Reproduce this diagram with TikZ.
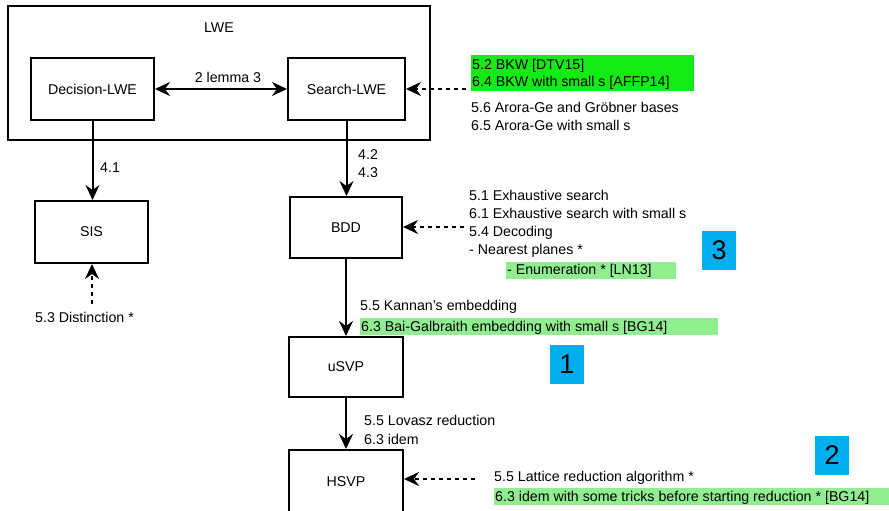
\documentclass[tikz,border=0pt]{standalone}
\usepackage{fontspec}
\setmainfont{Liberation Sans}[Ligatures=ResetAll]
\usetikzlibrary{arrows.meta}
\definecolor{bgreen}{RGB}{20,235,20}
\definecolor{lgreen}{RGB}{144,238,144}
\definecolor{cyanbox}{RGB}{0,174,239}
\begin{document}
\begin{tikzpicture}[x=1pt,y=-1pt,
  every node/.style={font=\fontsize{14.2}{17}\selectfont},
  box/.style={draw,line width=2pt,inner sep=0pt},
  txt/.style={anchor=base west,inner sep=0pt},
  ctxt/.style={anchor=base,inner sep=0pt},
  tip/.tip={Stealth[length=15pt,width=14pt,inset=5pt]},
  arr/.style={line width=2pt,-tip},
  darr/.style={arr,dash pattern=on 4pt off 4pt},
  numbox/.style={fill=cyanbox,inner sep=0pt,minimum width=34pt,minimum height=39pt,font=\fontsize{27}{30}\selectfont}]
\path[use as bounding box] (0,0) rectangle (889,511);
\clip (0,0) rectangle (889,511);
\fill[white] (0,0) rectangle (889,511);

% LWE container
\node[box,minimum width=422pt,minimum height=134pt] (lwe) at (219,73) {};
\node[ctxt] (lwelabel) at (219,33) {LWE};

% main boxes
\node[box,minimum width=123pt,minimum height=62pt] (dec) at (92.5,89) {Decision-LWE};
\node[box,minimum width=117pt,minimum height=62pt] (search) at (346.5,89) {Search-LWE};
\node[box,minimum width=113pt,minimum height=62pt] (sis) at (91.5,232) {SIS};
\node[box,minimum width=112pt,minimum height=61pt] (bdd) at (346,227.5) {BDD};
\node[box,minimum width=114pt,minimum height=60pt] (usvp) at (346,367) {uSVP};
\node[box,minimum width=114pt,minimum height=64pt] (hsvp) at (346,482) {HSVP};

% solid arrows
\draw[line width=2pt,tip-tip] (dec) -- (search);
\node[ctxt] (lemma) at (228,82) {2 lemma 3};
\draw[arr] (dec.south) -- (dec.south |- sis.north);
\node[txt] (l41) at (100,172) {4.1};
\draw[arr] (search.south) -- (search.south |- bdd.north);
\node[txt] (l42) at (358,159) {4.2};
\node[txt] (l43) at (358,177.5) {4.3};
\draw[arr] (bdd) -- (usvp);
\draw[arr] (usvp) -- (hsvp);

% dashed arrows
\coordinate (s1) at (466,89);
\draw[darr] (s1) -- (search.east);
\coordinate (s2) at (464,227);
\draw[darr] (s2) -- (s2 -| bdd.east);
\coordinate (s3) at (475,479);
\draw[darr] (s3) -- (s3 -| hsvp.east);
\coordinate (s4) at (92,304);
\draw[darr] (s4) -- (s4 |- sis.south);
\node[txt] (dist) at (35,322.5) {5.3 Distinction *};

% Search-LWE attacks
\fill[bgreen] (471,55) rectangle (694,91);
\node[txt] (a1) at (472,69.5) {5.2 BKW [DTV15]};
\node[txt] (a2) at (472,87) {6.4 BKW with small s [AFFP14]};
\node[txt] (a3) at (471,112.5) {5.6 Arora-Ge and Gröbner bases};
\node[txt] (a4) at (471,130) {6.5 Arora-Ge with small s};

% BDD attacks
\node[txt] (b1) at (469,200.5) {5.1 Exhaustive search};
\node[txt] (b2) at (469,218.5) {6.1 Exhaustive search with small s};
\node[txt] (b3) at (469,236) {5.4 Decoding};
\node[txt] (b4) at (469,254) {- Nearest planes *};
\fill[lgreen] (506,262) rectangle (676,279);
\node[txt] (b5) at (507,274.5) {- Enumeration * [LN13]};
\node[numbox] (n3) at (719,250.5) {3};

% BDD -> uSVP labels
\node[txt] (k1) at (360,310.5) {5.5 Kannan's embedding};
\fill[lgreen] (360,318) rectangle (718,335);
\node[txt] (k2) at (361,331.5) {6.3 Bai-Galbraith embedding with small s [BG14]};
\node[numbox] (n1) at (567,364) {1};

% uSVP -> HSVP labels
\node[txt] (v1) at (364,425.5) {5.5 Lovasz reduction};
\node[txt] (v2) at (364,444) {6.3 idem};

% HSVP attacks
\node[txt] (h1) at (494,481.5) {5.5 Lattice reduction algorithm *};
\fill[lgreen] (494,488) rectangle (889,505);
\node[txt] (h2) at (495,501) {6.3 idem with some tricks before starting reduction * [BG14]};
\node[numbox] (n2) at (832,455) {2};
\end{tikzpicture}
\end{document}
